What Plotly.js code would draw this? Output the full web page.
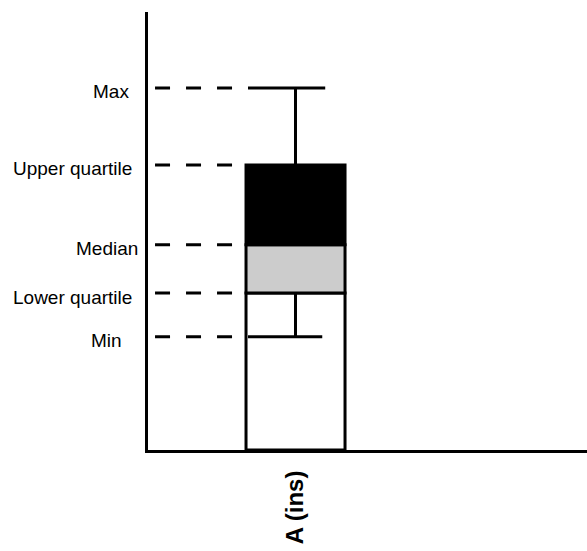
<!DOCTYPE html>
<html>
<head>
<meta charset="utf-8">
<script src="https://cdn.plot.ly/plotly-3.0.1.min.js"></script>
<style>html,body{margin:0;padding:0;background:#fff;}#chart{width:587px;height:551px;}</style>
</head>
<body>
<div id="chart"></div>
<script>
// ---- data ----
const categories = ['A (ins)'];
const statLabels = ['Max', 'Upper quartile', 'Median', 'Lower quartile', 'Min'];
const minVals = [3.1];
const lowerQuartile = [4.3];
const medianVals = [5.62];
const upperQuartile = [7.81];
const maxVals = [9.92];

// ---- styles ----
const FONT = 'Liberation Sans, Arial, sans-serif';
const labelShift = [-17, -14, -8, -14, -24];
const dashX0 = -1.419, dashX1 = -0.56;
const capL = -0.48, capR = 0.3;

const xIdx = categories.map((c, i) => i);
const statValues = [maxVals[0], upperQuartile[0], medianVals[0], lowerQuartile[0], minVals[0]];

const barLine = {color: '#000', width: 3};
const traces = [
  {type: 'bar', x: xIdx, y: lowerQuartile, base: xIdx.map(() => 0), width: 1,
   marker: {color: '#ffffff', line: barLine}, hoverinfo: 'skip'},
  {type: 'bar', x: xIdx, y: medianVals.map((m, i) => m - lowerQuartile[i]), base: lowerQuartile, width: 1,
   marker: {color: '#cccccc', line: barLine}, hoverinfo: 'skip'},
  {type: 'bar', x: xIdx, y: upperQuartile.map((u, i) => u - medianVals[i]), base: medianVals, width: 1,
   marker: {color: '#000000', line: barLine}, hoverinfo: 'skip'},
  // upper whisker
  {type: 'scatter', mode: 'markers', x: xIdx, y: upperQuartile,
   marker: {size: 1, opacity: 0},
   error_y: {type: 'data', symmetric: false, array: maxVals.map((m, i) => m - upperQuartile[i]),
             arrayminus: xIdx.map(() => 0), width: 0, thickness: 3, color: '#000'}, hoverinfo: 'skip'},
  // lower whisker
  {type: 'scatter', mode: 'markers', x: xIdx, y: lowerQuartile,
   marker: {size: 1, opacity: 0},
   error_y: {type: 'data', symmetric: false, array: xIdx.map(() => 0),
             arrayminus: lowerQuartile.map((l, i) => l - minVals[i]), width: 0, thickness: 3, color: '#000'}, hoverinfo: 'skip'},
  // whisker caps
  {type: 'scatter', mode: 'lines', x: [xIdx[0] + capL, xIdx[0] + capR], y: [maxVals[0], maxVals[0]],
   line: {color: '#000', width: 3}, hoverinfo: 'skip'},
  {type: 'scatter', mode: 'lines', x: [xIdx[0] + capL, xIdx[0] + capR - 0.03], y: [minVals[0], minVals[0]],
   line: {color: '#000', width: 3}, hoverinfo: 'skip'}
];

statValues.forEach(v => {
  traces.push({type: 'scatter', mode: 'lines', x: [dashX0, dashX1], y: [v, v],
    line: {color: '#000', width: 3, dash: '15px,16px'}, hoverinfo: 'skip'});
});

const annotations = statLabels.map((t, i) => ({
  text: t, xref: 'paper', x: 0, xanchor: 'right', yref: 'y', y: statValues[i],
  yanchor: 'middle', yshift: -4, xshift: labelShift[i], showarrow: false,
  font: {family: FONT, size: 19, color: '#000'}
}));

const layout = {
  width: 587, height: 551,
  margin: {l: 148, r: 0, t: 12, b: 101},
  paper_bgcolor: '#fff', plot_bgcolor: '#fff',
  showlegend: false,
  barmode: 'overlay',
  xaxis: {range: [-1.49, 2.944], tickvals: xIdx, ticktext: categories.map(c => '<b>' + c + '</b>'),
          tickangle: -90, ticks: '', ticklabelstandoff: 8,
          tickfont: {family: FONT, size: 24, color: '#000'},
          showline: true, linecolor: '#000', linewidth: 3, showgrid: false, zeroline: false},
  yaxis: {range: [0, 12], showticklabels: false, ticks: '',
          showline: true, linecolor: '#000', linewidth: 3, showgrid: false, zeroline: false},
  annotations: annotations
};

Plotly.newPlot('chart', traces, layout, {staticPlot: true, displayModeBar: false});
</script>
</body>
</html>
